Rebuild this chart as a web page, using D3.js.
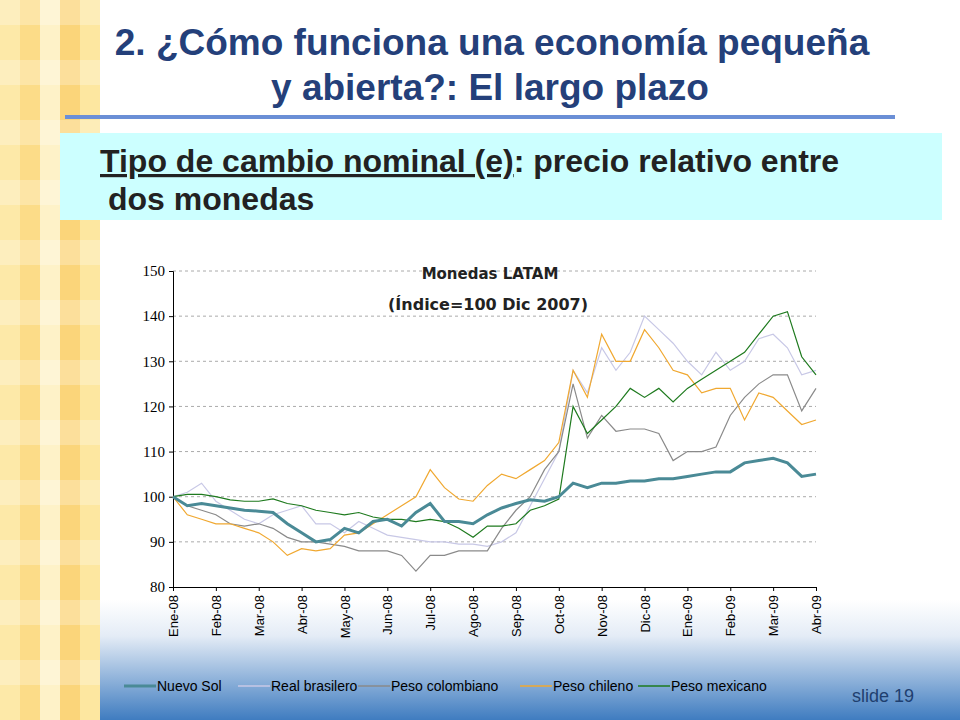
<!DOCTYPE html><html><head><meta charset="utf-8"><script src="https://cdn.jsdelivr.net/npm/d3@7"></script>
<style>body{margin:0}svg{display:block}</style></head><body><svg id="c" width="960" height="720"></svg>
<script>
const monthLabels=["Ene-08","Feb-08","Mar-08","Abr-08","May-08","Jun-08","Jul-08","Ago-08","Sep-08","Oct-08","Nov-08","Dic-08","Ene-09","Feb-09","Mar-09","Abr-09"];
const yTicks=[80,90,100,110,120,130,140,150];
const seriesNames=["Nuevo Sol","Real brasilero","Peso colombiano","Peso chileno","Peso mexicano"];
// values sampled every 1/3 month from Ene-08 to Abr-09
const nuevoSol=[100,98,98.5,98,97.5,97,96.8,96.5,94,92,90,90.5,93,92,94.5,95,93.5,96.5,98.5,94.5,94.5,94,96,97.5,98.5,99.3,99,100,103,102,103,103,103.5,103.5,104,104,104.5,105,105.5,105.5,107.5,108,108.5,107.5,104.5,105];
const realBr=[100,101,103,99,97,95,94,96,97,98,94,94,92,94.5,93,91.5,91,90.5,90,90,89.5,89.5,89,90,92,98,104,110,128,123,133,128,132,140,137,134,130,127,132,128,130,135,136,133,127,128];
const pesoCol=[100,98,97,96,94,93.5,94,93,91,90,90,89.5,89,88,88,88,87,83.5,87,87,88,88,88,93,97,100,106,110,125,113,118,114.5,115,115,114,108,110,110,111,118,122,125,127,127,119,124];
const pesoChi=[100,96,95,94,94,93,92,90,87,88.5,88,88.5,91.5,92,94,96,98,100,106,102,99.5,99,102.5,105,104,106,108,112,128,122,136,130,130,137,133,128,127,123,124,124,117,123,122,119,116,117];
const pesoMex=[100,100.5,100.5,100,99.3,99,99,99.5,98.5,98,97,96.5,96,96.5,95.5,95,95,94.5,95,94.5,93,91,93.5,93.5,94,97,98,99.5,120,114,117,120,124,122,124,121,124,126,128,130,132,136,140,141,131,127];
const colors=["#4a8a96","#c8c8e6","#8a8a8a","#f0a830","#1e7a1e"];
const widths=[3,1.2,1.2,1.2,1.2];
const allSeries=[nuevoSol,realBr,pesoCol,pesoChi,pesoMex];

const svg=d3.select("#c");
const defs=svg.append("defs");
const g1=defs.append("linearGradient").attr("id","bg").attr("x1",0).attr("y1",0).attr("x2",0).attr("y2",1);
g1.append("stop").attr("offset","0").attr("stop-color","#ffffff");
g1.append("stop").attr("offset","0.3").attr("stop-color","#e4ecf6");
g1.append("stop").attr("offset","1").attr("stop-color","#3f7cc0");
svg.append("rect").attr("width",960).attr("height",720).attr("fill","#fff");
svg.append("rect").attr("x",100).attr("y",600).attr("width",860).attr("height",120).attr("fill","url(#bg)");
const stripeCols=["#fde9a8","#fcdc88","#fef2c8","#fbd57a","#fde7a0"];
[0,20,40,60,80].forEach((x,i)=>svg.append("rect").attr("x",x).attr("y",0).attr("width",20).attr("height",720).attr("fill",stripeCols[i]));
for(let y=0;y<720;y+=60){svg.append("rect").attr("x",0).attr("y",y).attr("width",100).attr("height",25).attr("fill","#fff").attr("opacity",0.25);}
const tt=svg.append("text").attr("text-anchor","middle").attr("font-family","Liberation Sans, Arial").attr("font-weight","bold").attr("font-size",37).attr("fill","#24407a");
tt.append("tspan").attr("x",492).attr("y",55).text("2. ¿Cómo funciona una economía pequeña");
tt.append("tspan").attr("x",490).attr("y",100).text("y abierta?: El largo plazo");
svg.append("rect").attr("x",65).attr("y",115).attr("width",830).attr("height",4).attr("fill","#6b8fd6");
svg.append("rect").attr("x",60).attr("y",133).attr("width",882).attr("height",87).attr("fill","#ccffff");
const st=svg.append("text").attr("font-family","Liberation Sans, Arial").attr("font-weight","bold").attr("font-size",32).attr("fill","#222");
st.append("tspan").attr("x",100).attr("y",172).attr("text-decoration","underline").text("Tipo de cambio nominal (e)");
st.append("tspan").text(": precio relativo entre");
st.append("tspan").attr("x",108).attr("y",210).text("dos monedas");

const x=d3.scaleLinear().domain([0,15]).range([173,816]);
const y=d3.scaleLinear().domain([80,150]).range([587,271]);
svg.append("g").selectAll("line").data(yTicks.slice(1)).join("line")
 .attr("x1",173).attr("x2",816).attr("y1",d=>y(d)).attr("y2",d=>y(d)).attr("stroke","#aaa").attr("stroke-dasharray","3,3");
const ya=svg.append("g").attr("transform","translate(173,0)").call(d3.axisLeft(y).tickValues(yTicks).tickSize(4).tickPadding(4));
ya.select(".domain").attr("stroke","#000");
ya.selectAll("text").attr("font-family","Liberation Serif, Times New Roman").attr("font-size",15).attr("fill","#000");
const xa=svg.append("g").attr("transform","translate(0,587)").call(d3.axisBottom(x).tickValues(d3.range(16)).tickFormat(i=>monthLabels[i]).tickSize(4));
xa.selectAll(".tick text").attr("font-family","Liberation Sans, Arial").attr("font-size",13).attr("fill","#000")
 .attr("transform","rotate(-90)").attr("text-anchor","end").attr("y",0).attr("x",-8).attr("dy","0.35em");
const line=d3.line().x((d,i)=>x(i/3)).y(d=>y(d));
[1,2,3,4,0].forEach(k=>svg.append("path").datum(allSeries[k]).attr("d",line).attr("fill","none").attr("stroke",colors[k]).attr("stroke-width",widths[k]));
svg.append("text").attr("x",490).attr("y",279).attr("text-anchor","middle").attr("font-family","DejaVu Sans").attr("font-weight","bold").attr("font-size",15).attr("fill","#222").text("Monedas LATAM");
svg.append("text").attr("x",488).attr("y",310).attr("text-anchor","middle").attr("font-family","DejaVu Sans").attr("font-weight","bold").attr("font-size",16).attr("fill","#222").text("(Índice=100 Dic 2007)");
const lx=[124,238,358,520,638];
seriesNames.forEach((n,i)=>{
 svg.append("line").attr("x1",lx[i]).attr("x2",lx[i]+32).attr("y1",686).attr("y2",686).attr("stroke",colors[i]).attr("stroke-width",i==0?3:1.5);
 svg.append("text").attr("x",lx[i]+33).attr("y",691).attr("font-family","Liberation Sans Narrow, Liberation Sans").attr("font-size",14).attr("fill","#000").text(n);
});
svg.append("text").attr("x",914).attr("y",702).attr("text-anchor","end").attr("font-family","Liberation Sans, Arial").attr("font-size",18).attr("fill","#1f3f6f").text("slide 19");
</script></body></html>
